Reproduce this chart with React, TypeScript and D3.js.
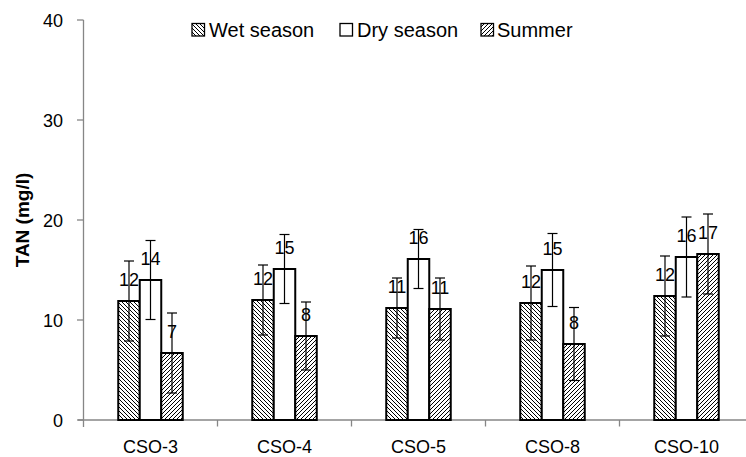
import React from "react";
import * as d3 from "d3";

const categories = ["CSO-3", "CSO-4", "CSO-5", "CSO-8", "CSO-10"];
const seriesNames = ["Wet season", "Dry season", "Summer"];
const wetValues = [11.9, 12.0, 11.2, 11.7, 12.4];
const dryValues = [14.0, 15.1, 16.1, 15.0, 16.3];
const summerValues = [6.7, 8.4, 11.1, 7.6, 16.6];
const wetErrors = [4.0, 3.5, 3.0, 3.7, 4.0];
const dryErrors = [3.95, 3.45, 2.95, 3.65, 4.0];
const summerErrors = [4.0, 3.4, 3.1, 3.65, 4.0];
const yTicks = [0, 10, 20, 30, 40];

const W = 746;
const H = 457;
const FONT = "'Liberation Sans', Arial, sans-serif";
const AXIS = "#868686";

export default function App() {
  const y = d3.scaleLinear().domain([0, 40]).range([420, 20]);
  const band = 134;
  const x = d3
    .scaleBand<string>()
    .domain(categories)
    .range([83.5, 83.5 + band * categories.length])
    .padding(0);
  const barW = 21.5;

  const series = [
    { name: seriesNames[0], values: wetValues, errors: wetErrors, fill: "url(#patDown)" },
    { name: seriesNames[1], values: dryValues, errors: dryErrors, fill: "#ffffff" },
    { name: seriesNames[2], values: summerValues, errors: summerErrors, fill: "url(#patUp)" },
  ];

  const legendItems = [
    { box: 192, text: 209 },
    { box: 340, text: 357 },
    { box: 481, text: 497 },
  ];

  return (
    <svg
      width={W}
      height={H}
      style={{ position: "absolute", left: 0, top: 0, background: "#fff" }}
      fontFamily={FONT}
    >
      <defs>
        <pattern id="patDown" patternUnits="userSpaceOnUse" width={4} height={4}>
          <rect width={4} height={4} fill="#fff" />
          <path d="M-1,-1 L5,5 M-1,3 L1,5 M3,-1 L5,1" stroke="#000" strokeWidth={1} />
        </pattern>
        <pattern id="patUp" patternUnits="userSpaceOnUse" width={4} height={4}>
          <rect width={4} height={4} fill="#fff" />
          <path d="M-1,5 L5,-1 M-1,1 L1,-1 M3,5 L5,3" stroke="#000" strokeWidth={1} />
        </pattern>
      </defs>

      {/* y axis */}
      <line x1={83.5} x2={83.5} y1={20} y2={427} stroke={AXIS} strokeWidth={1.3} />
      {yTicks.map((t) => (
        <g key={t}>
          <line x1={77} x2={83.5} y1={y(t)} y2={y(t)} stroke={AXIS} strokeWidth={1.3} />
          <text x={63} y={y(t) + 7} textAnchor="end" fontSize={18} fill="#000">
            {t}
          </text>
        </g>
      ))}
      <text
        transform="translate(28.5,220) rotate(-90)"
        textAnchor="middle"
        fontSize={19}
        fontWeight="bold"
        fill="#000"
      >
        TAN (mg/l)
      </text>

      {/* x axis */}
      <line x1={78} x2={W} y1={420} y2={420} stroke={AXIS} strokeWidth={1.3} />
      {categories.map((c) => (
        <line
          key={"t" + c}
          x1={(x(c) as number) + band}
          x2={(x(c) as number) + band}
          y1={420}
          y2={426.5}
          stroke={AXIS}
          strokeWidth={1.3}
        />
      ))}
      {categories.map((c) => (
        <text
          key={"l" + c}
          x={(x(c) as number) + band / 2}
          y={453}
          textAnchor="middle"
          fontSize={18}
          fill="#000"
        >
          {c}
        </text>
      ))}

      {/* bars */}
      {series.map((s, si) =>
        categories.map((c, ci) => {
          const cx = (x(c) as number) + band / 2;
          const bx = cx - 1.5 * barW + si * barW;
          const v = s.values[ci];
          return (
            <rect
              key={s.name + c}
              x={bx}
              y={y(v)}
              width={barW}
              height={420 - y(v)}
              fill={s.fill}
              stroke="#000"
              strokeWidth={2}
            />
          );
        })
      )}

      {/* error bars */}
      {series.map((s, si) =>
        categories.map((c, ci) => {
          const cx = (x(c) as number) + band / 2;
          const mx = cx - 1.5 * barW + si * barW + barW / 2;
          const v = s.values[ci];
          const e = s.errors[ci];
          return (
            <g key={"e" + s.name + c} stroke="#000" strokeWidth={1.2}>
              <line x1={mx} x2={mx} y1={y(v + e)} y2={y(v - e)} />
              <line x1={mx - 5} x2={mx + 5} y1={y(v + e)} y2={y(v + e)} />
              <line x1={mx - 5} x2={mx + 5} y1={y(v - e)} y2={y(v - e)} />
            </g>
          );
        })
      )}

      {/* data labels */}
      {series.map((s, si) =>
        categories.map((c, ci) => {
          const cx = (x(c) as number) + band / 2;
          const mx = cx - 1.5 * barW + si * barW + barW / 2;
          const v = s.values[ci];
          return (
            <text
              key={"d" + s.name + c}
              x={mx}
              y={y(v) - 15.5}
              textAnchor="middle"
              fontSize={18}
              fill="#000"
            >
              {Math.round(v)}
            </text>
          );
        })
      )}

      {/* legend */}
      {series.map((s, si) => (
        <g key={"lg" + s.name}>
          <rect
            x={legendItems[si].box}
            y={23.5}
            width={12.5}
            height={12.5}
            fill={s.fill}
            stroke="#000"
            strokeWidth={1.3}
          />
          <text x={legendItems[si].text} y={36.5} fontSize={20} fill="#000">
            {s.name}
          </text>
        </g>
      ))}
    </svg>
  );
}
